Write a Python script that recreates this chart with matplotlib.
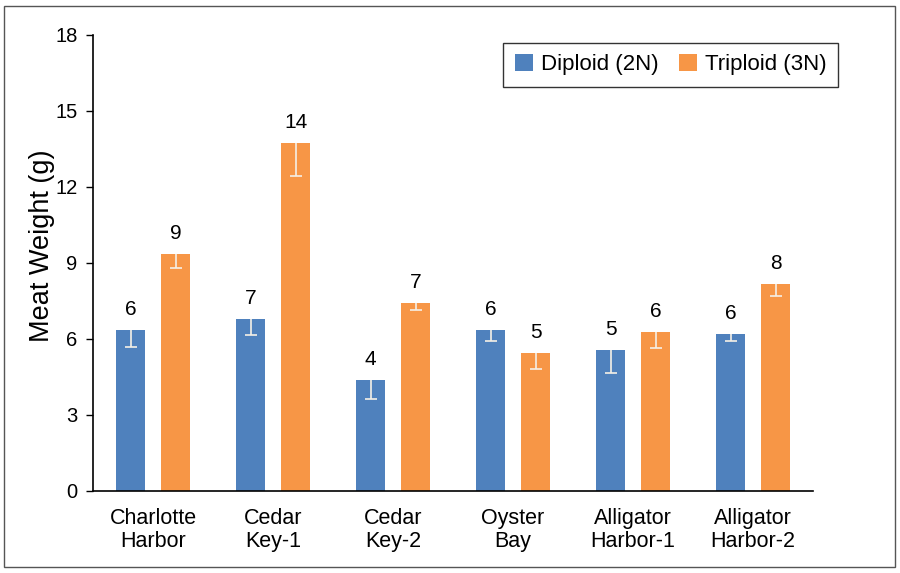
import matplotlib
matplotlib.use("Agg")
import matplotlib.pyplot as plt
import numpy as np
from matplotlib.patches import Rectangle

plt.rcParams['font.family'] = ['Liberation Sans', 'DejaVu Sans']

sites = ["Charlotte\nHarbor", "Cedar\nKey-1", "Cedar\nKey-2", "Oyster\nBay",
         "Alligator\nHarbor-1", "Alligator\nHarbor-2"]
diploid = [6.36, 6.80, 4.38, 6.36, 5.57, 6.18]
diploid_err = [0.66, 0.64, 0.76, 0.42, 0.92, 0.26]
diploid_labels = ["6", "7", "4", "6", "5", "6"]
triploid = [9.34, 13.72, 7.43, 5.46, 6.29, 8.16]
triploid_err = [0.55, 1.27, 0.29, 0.66, 0.63, 0.46]
triploid_labels = ["9", "14", "7", "5", "6", "8"]
yticks = [0, 3, 6, 9, 12, 15, 18]

fig = plt.figure(figsize=(9, 5.73), dpi=100)
ax = fig.add_axes([93/900, 1-491/573, 720/900, 456/573])

x = np.arange(len(sites))
off = 0.1875
w = 0.245
blue = '#4F81BD'
orange = '#F79646'
ax.bar(x - off, diploid, w, color=blue, label='Diploid (2N)', zorder=2)
ax.bar(x + off, triploid, w, color=orange, label='Triploid (3N)', zorder=2)

def lower_err(xs, vals, errs):
    zeros = [0] * len(vals)
    _, caps, _ = ax.errorbar(xs, vals, yerr=[errs, zeros], fmt='none',
                             ecolor='#F5F0E6', elinewidth=1.2, capsize=4,
                             capthick=1.2, zorder=3)
    for c in caps:
        yd = np.asarray(c.get_ydata(), dtype=float)
        if np.allclose(yd, np.asarray(vals, dtype=float)):
            c.set_visible(False)

lower_err(x - off, diploid, diploid_err)
lower_err(x + off, triploid, triploid_err)

for xi, v, lab in zip(x - off, diploid, diploid_labels):
    ax.annotate(lab, (xi, v), xytext=(0, 8), textcoords='offset points',
                ha='center', va='bottom', fontsize=15)
for xi, v, lab in zip(x + off, triploid, triploid_labels):
    ax.annotate(lab, (xi, v), xytext=(0, 8), textcoords='offset points',
                ha='center', va='bottom', fontsize=15)

ax.set_xlim(-0.5, len(sites) - 0.5)
ax.set_ylim(0, 18)
ax.set_yticks(yticks)
ax.set_yticklabels([str(t) for t in yticks], fontsize=14.5)
ax.set_xticks(x)
ax.set_xticklabels(sites, fontsize=15.5, linespacing=1.15)
ax.tick_params(axis='x', length=0, pad=12)
ax.tick_params(axis='y', length=5, width=1, direction='out', pad=6)
ax.spines['top'].set_visible(False)
ax.spines['right'].set_visible(False)
ax.spines['left'].set_linewidth(1.2)
ax.spines['bottom'].set_linewidth(1.2)
ax.set_ylabel('Meat Weight (g)', fontsize=19.5)
ax.yaxis.set_label_coords(-0.053, 0.537)

leg = ax.legend(loc='upper right', bbox_to_anchor=(838/900, 1-43/573),
                bbox_transform=fig.transFigure, ncol=2, fontsize=16,
                frameon=True, fancybox=False, edgecolor='black',
                handlelength=0.82, handleheight=0.82, columnspacing=0.95,
                handletextpad=0.35, borderpad=0.5, borderaxespad=0)
leg.get_frame().set_linewidth(1.0)

fig.patches.append(Rectangle((4/900, 6/573), 891/900, 561/573, transform=fig.transFigure,
                             fill=False, edgecolor='#555555', linewidth=1.0))

fig.savefig('out.png', dpi=100)
